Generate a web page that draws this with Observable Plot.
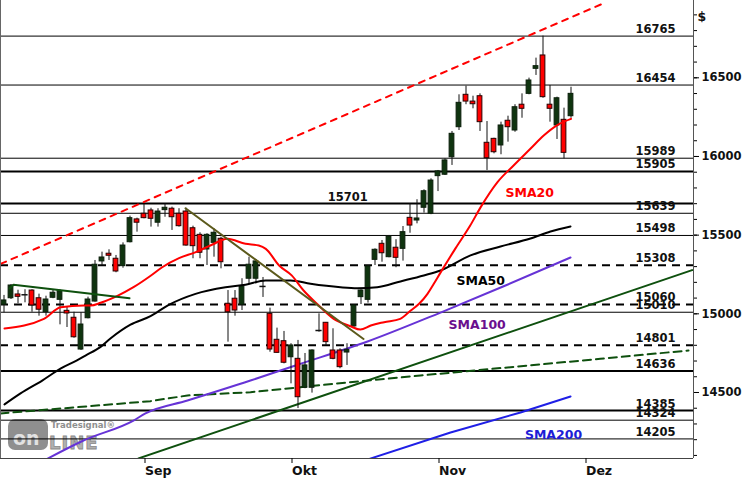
<!DOCTYPE html>
<html><head><meta charset="utf-8">
<script src="https://cdn.jsdelivr.net/npm/d3@7"></script>
<script src="https://cdn.jsdelivr.net/npm/@observablehq/plot@0.6"></script>
<style>html,body{margin:0;padding:0;background:#fff;overflow:hidden}</style>
</head><body><div id="chart"></div>
<script>
// ---- daily candles (trading-day index 0..81) ----
const opens  = [15057,15099,15123,15121,15148,15099,15010,15102,15089,15019,14975,14773,14972,15078,15333,15382,15350,15303,15455,15600,15636,15657,15579,15659,15668,15636,15650,15544,15502,15409,15451,15477,15064,15096,15057,15223,15223,15174,15000,14835,14826,14724,14714,14530,14530,14894,14943,14767,14767,14754,14920,15106,15089,15343,15445,15360,15420,15413,15610,15593,15674,15636,15875,15884,15995,16186,16392,16349,16383,16087,16112,16070,16227,16165,16329,16398,16557,16642,16329,16197,16233,16256];
const highs  = [15117,15186,15150,15153,15153,15125,15112,15153,15153,15042,15010,15007,15106,15339,15392,15407,15371,15451,15621,15608,15699,15671,15668,15699,15678,15668,15671,15557,15515,15509,15540,15487,15148,15148,15223,15360,15345,15231,15036,14909,14888,14810,14831,14748,14771,15000,14945,14905,14778,14810,15059,15153,15307,15413,15466,15498,15471,15555,15699,15725,15788,15858,15911,15985,16159,16392,16447,16383,16398,16222,16116,16218,16256,16329,16398,16498,16625,16765,16451,16377,16307,16440];
const lows   = [15007,15091,15064,15070,15010,14985,14985,15096,14930,14913,14845,14767,14968,15074,15307,15339,15261,15290,15451,15519,15604,15551,15551,15614,15530,15551,15430,15350,15350,15307,15360,15286,14820,14985,15021,15191,15191,15104,14756,14750,14682,14555,14398,14524,14496,14883,14799,14708,14651,14672,14915,15059,15068,15307,15328,15356,15293,15335,15512,15572,15640,15630,15777,15879,15943,16165,16329,16303,16159,15911,16017,16011,16091,16154,16243,16392,16515,16370,16218,16108,15985,16243];
const closes = [15085,15180,15108,15121,15053,15026,15091,15134,15144,15002,14851,14932,15091,15312,15358,15369,15269,15434,15608,15579,15608,15604,15650,15674,15614,15557,15434,15430,15388,15502,15515,15328,15010,15021,15176,15312,15333,15174,14773,14752,14689,14799,14470,14672,14767,14894,14820,14714,14661,14771,15053,15148,15301,15407,15385,15491,15356,15519,15561,15606,15779,15847,15905,15975,16144,16341,16349,16332,16218,15989,16027,16197,16186,16313,16303,16483,16574,16377,16303,16370,16023,16398];

// ---- x-axis month labels (first trading day index of each month) ----
const monthLabels = ["Sep", "Okt", "Nov", "Dez"];
const monthStartIdx = [20, 41, 62, 83];

// ---- right axis ticks ----
const yTickValues = [14500, 15000, 15500, 16000, 16500];

// ---- horizontal support / resistance levels ----
const levels     = [16765, 16454, 15989, 15905, 15701, 15639, 15498, 15308, 15060, 15010, 14801, 14636, 14385, 14324, 14205];
const levelKinds = ["thin","thin","thin","thick","thick","thin","thin","dash","dash","thin","dash","thick","thick","thin","thin"];

// ---- moving averages: [dayIndex, value] ----
const sma20 = [[0.07,14907],[5.7,14968],[8.1,15042],[11.4,15053],[12.4,15053],[13.8,15070],[16.2,15114],[18.5,15169],[20.9,15240],[22.6,15296],[25,15354],[27.4,15392],[29.7,15439],[31.9,15477],[34.5,15445],[36.4,15434],[37.4,15413],[39.3,15307],[41.1,15244],[42.8,15148],[44.7,15064],[47.1,14968],[49.5,14921],[50.9,14900],[52.4,14926],[54.3,14947],[56.6,14968],[58.1,15021],[59.3,15064],[60.5,15127],[61.4,15191],[62.4,15265],[64.5,15416],[66.6,15561],[68.1,15678],[70.5,15837],[72.8,15943],[75.2,16049],[77.1,16133],[79.1,16201],[81,16239]];
const sma50 = [[0.07,14424],[2.36,14494],[5.46,14576],[8.07,14652],[10.36,14703],[11.64,14735],[13.8,14790],[15.2,14843],[18.07,14931],[20.93,14985],[23.54,15057],[27.36,15127],[31.64,15169],[34.5,15185],[37.36,15212],[40.93,15212],[43.79,15191],[48.07,15169],[50.46,15163],[53.31,15169],[56.64,15206],[59.97,15244],[62.36,15275],[66.64,15371],[70.93,15428],[75.21,15479],[78.07,15523],[80.93,15555]];
const sma100 = [[5.2,14055],[11.36,14195],[18.5,14322],[20.21,14367],[26.21,14449],[35.21,14576],[41.64,14672],[51.93,14824],[62.36,15008],[71.64,15180],[80.93,15358]];
const sma200 = [[52.2,14078],[63.79,14246],[73.79,14373],[80.93,14475]];
const longAvgDashed = [[-0.5,14367],[8.07,14398],[20.93,14445],[26.21,14481],[35.21,14502],[47.07,14555],[59.5,14608],[85.21,14714],[97.79,14767]];

// ---- trend lines: [dayIndex, value] ----
const upperChannel = [[-0.5,15317],[85.93,16979]];
const longUptrend  = [[19.21,14081],[98.3,15278]];
const shortDown    = [[0.79,15161],[1.36,15185],[17.93,15099]];
const downTrend    = [[25.93,15671],[51.36,14840]];

// ---- indicator names ----
const smaNames = ["SMA20", "SMA50", "SMA100", "SMA200"];

// ---------------------------------------------------------------
const candles = opens.map((o, i) => ({i, o, h: highs[i], l: lows[i], c: closes[i]}));
const levelRows = levels.map((v, k) => ({v, kind: levelKinds[k]}));
const px = () => ({x: d => d[0], y: d => d[1]});

// label anchor spots (layout)
const smaLabelSpots = [[75.1,15765,"#ff0000"],[68.1,15206,"#000000"],[67.6,14932,"#6a0f8e"],[78.5,14233,"#1d1dd6"]];
const smaLabels = smaNames.map((n, k) => ({n, i: smaLabelSpots[k][0], v: smaLabelSpots[k][1], col: smaLabelSpots[k][2]}));

const GREEN = "#0e500e";
const half = 0.34;

const chart = Plot.plot({
  width: 750,
  height: 480,
  marginLeft: 0,
  marginTop: 0,
  marginRight: 57,
  marginBottom: 22,
  style: "font-family: 'DejaVu Sans', Verdana, sans-serif; font-size: 11px; font-weight: bold; background: #fff; color: #000;",
  x: {domain: [-0.5, 98.5], axis: null},
  y: {domain: [14080.5, 16991.3], axis: null},
  marks: [
    // level lines
    Plot.ruleY(levelRows.filter(d => d.kind === "thin"), {y: "v", stroke: "#000", strokeWidth: 1}),
    Plot.ruleY(levelRows.filter(d => d.kind === "thick"), {y: "v", stroke: "#000", strokeWidth: 2}),
    Plot.ruleY(levelRows.filter(d => d.kind === "dash"), {y: "v", stroke: "#000", strokeWidth: 2, strokeDasharray: "8,6"}),
    // level labels
    Plot.text(levelRows.filter(d => d.v !== 15701), {x: () => 95.93, y: "v", text: d => String(d.v), textAnchor: "end", lineAnchor: "bottom", dy: -3, fill: "#111", fontSize: 11.5}),
    Plot.text(levelRows.filter(d => d.v === 15701), {x: () => 49.1, y: "v", text: d => String(d.v), textAnchor: "middle", lineAnchor: "bottom", dy: -3, fill: "#111", fontSize: 11.5}),
    // long-term lines under candles
    Plot.line(longAvgDashed, {...px(), stroke: GREEN, strokeWidth: 2, strokeDasharray: "8,5", clip: true}),
    Plot.line(longUptrend, {...px(), stroke: GREEN, strokeWidth: 2, clip: true}),
    Plot.line(sma200, {...px(), stroke: "#1f1fe6", strokeWidth: 2, clip: true}),
    Plot.line(sma100, {...px(), stroke: "#6633d6", strokeWidth: 2, clip: true, curve: "monotone-x"}),
    // candles
    Plot.ruleX(candles, {x: "i", y1: "l", y2: "h", stroke: "#111", strokeWidth: 1}),
    Plot.rect(candles.filter(d => Math.abs(d.c - d.o) >= 7), {
      x1: d => d.i - half, x2: d => d.i + half,
      y1: d => Math.min(d.o, d.c), y2: d => Math.max(d.o, d.c),
      fill: d => d.c > d.o ? "#0f340f" : "#ff0000",
      stroke: d => d.c > d.o ? "#0a1e0a" : "#2a0000", strokeWidth: 1
    }),
    Plot.ruleY(candles.filter(d => Math.abs(d.c - d.o) < 7), {y: "o", x1: d => d.i - half - 0.1, x2: d => d.i + half + 0.1, stroke: "#111", strokeWidth: 1.5}),
    // indicators on top
    Plot.line(sma50, {...px(), stroke: "#000", strokeWidth: 2, curve: "monotone-x"}),
    Plot.line(sma20, {...px(), stroke: "#ff0000", strokeWidth: 2, curve: "monotone-x"}),
    Plot.line(shortDown, {...px(), stroke: GREEN, strokeWidth: 2}),
    Plot.line(downTrend, {...px(), stroke: "#5c5a1c", strokeWidth: 2}),
    Plot.line(upperChannel, {...px(), stroke: "#ff0000", strokeWidth: 2, strokeDasharray: "6,6", clip: true}),
    // indicator labels
    Plot.text(smaLabels, {x: "i", y: "v", text: "n", fill: d => d.col, fontSize: 12.5, textAnchor: "middle"}),
    // frame edges
    Plot.ruleX([-0.5], {stroke: "#666"}),
    Plot.ruleX([98.5], {stroke: "#555"}),
    Plot.ruleY([14080.5], {stroke: "#444"}),
    // right axis
    Plot.axisY({anchor: "right", ticks: d3.range(14100, 17000, 100), tickSize: 3, tickFormat: () => "", label: null, stroke: "#000"}),
    Plot.axisY({anchor: "right", ticks: yTickValues, tickSize: 5, tickPadding: 3, tickFormat: d => String(d), label: null, fill: "#111", fontSize: 11.5}),
    Plot.text(["$"], {frameAnchor: "top-right", dx: 4, dy: 12, textAnchor: "start", fontSize: 12.5, fill: "#111"}),
    // bottom axis
    Plot.axisX({ticks: monthStartIdx, tickSize: 5, tickPadding: 3, tickFormat: d => monthLabels[monthStartIdx.indexOf(d)], textAnchor: "start", dx: 1, fontSize: 12.5, label: null, fill: "#111"})
  ]
});
document.getElementById("chart").appendChild(chart);

// decorative watermark (under everything)
const svg = d3.select(chart);
const wm = svg.insert("g", "g")
  .style("font-family", "'DejaVu Sans', sans-serif")
  .style("font-weight", "bold");
wm.append("rect").attr("x", 8).attr("y", 419).attr("width", 40).attr("height", 31).attr("rx", 7).attr("fill", "#8f8f8f");
wm.append("text").attr("x", 13).attr("y", 445).attr("text-anchor", "start").style("font-size", "19px").attr("fill", "#e2e2e2").text("on");
wm.append("text").attr("x", 49).attr("y", 449).attr("text-anchor", "start").style("font-size", "18px").style("letter-spacing", "1px").attr("fill", "#b0b0b0").attr("stroke", "#8a8a8a").attr("stroke-width", 0.8).text("LINE");
wm.append("text").attr("x", 51).attr("y", 428).attr("text-anchor", "start").style("font-size", "8.5px").attr("fill", "#8f8f8f").text("Tradesignal®");
</script>
</body></html>
